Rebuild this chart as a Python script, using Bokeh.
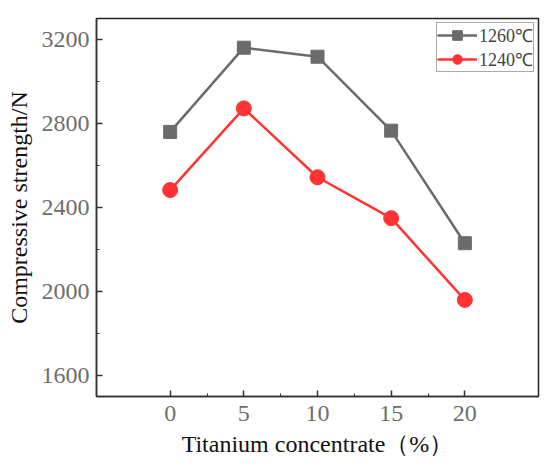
from bokeh.plotting import figure
from bokeh.models import FixedTicker, Range1d, Legend, LegendItem
from bokeh.embed import file_html
from bokeh.resources import INLINE

x = [0, 5, 10, 15, 20]
s1260 = [2760, 3161, 3118, 2766, 2230]
s1240 = [2483, 2872, 2544, 2349, 1960]
labels = ["1260\u2103", "1240\u2103"]
xticks = [0, 5, 10, 15, 20]
xminor = [2.5, 7.5, 12.5, 17.5]
yticks = [1600, 2000, 2400, 2800, 3200]
yminor = [1800, 2200, 2600, 3000]

FONT = "Times New Roman, Liberation Serif, serif"

p = figure(width=548, height=470, output_backend="svg", toolbar_location=None,
           x_range=Range1d(-5, 25), y_range=Range1d(1500, 3300),
           min_border_left=96, min_border_right=10, min_border_top=18, min_border_bottom=74)
p.grid.visible = False
p.outline_line_color = "#222222"
p.outline_line_width = 1.5
p.background_fill_color = "white"
p.border_fill_color = "white"

l1 = p.line(x, s1260, line_color="#6b6b6b", line_width=2.5)
m1 = p.scatter(x, s1260, marker="square", size=13, fill_color="#6b6b6b", line_color="#6b6b6b")
l2 = p.line(x, s1240, line_color="#ff3333", line_width=2.5)
m2 = p.scatter(x, s1240, marker="circle", size=15, fill_color="#ff3333", line_color="#ff3333")

for ax in (p.xaxis[0], p.yaxis[0]):
    ax.major_tick_in = 6
    ax.major_tick_out = 0
    ax.minor_tick_in = 3
    ax.minor_tick_out = 0
    ax.axis_line_color = "#333333"
    ax.axis_line_width = 1.5
    ax.major_tick_line_color = "#333333"
    ax.minor_tick_line_color = "#333333"
    ax.major_tick_line_width = 1.5
    ax.major_label_text_font = FONT
    ax.major_label_text_font_size = "24px"
    ax.major_label_text_color = "#6e6e6e"
    ax.axis_label_text_font = FONT
    ax.axis_label_text_font_size = "24px"
    ax.axis_label_text_font_style = "normal"
    ax.axis_label_text_color = "#111111"

p.xaxis.ticker = FixedTicker(ticks=xticks, minor_ticks=xminor)
p.yaxis.ticker = FixedTicker(ticks=yticks, minor_ticks=yminor)
p.xaxis.axis_label = "Titanium concentrate\uff08%\uff09"
p.yaxis.axis_label = "Compressive strength/N"
p.xaxis.major_label_standoff = 9
p.yaxis.major_label_standoff = 7
p.xaxis.axis_label_standoff = 7
p.yaxis.axis_label_standoff = 7

legend = Legend(items=[LegendItem(label=labels[0], renderers=[l1, m1]),
                       LegendItem(label=labels[1], renderers=[l2, m2])],
                location="top_right")
legend.label_text_font = FONT
legend.label_text_font_size = "18px"
legend.border_line_color = "#555555"
legend.border_line_width = 1
legend.glyph_width = 40
legend.glyph_height = 24
legend.label_height = 20
legend.spacing = 0
legend.padding = 0
legend.margin = 4
legend.label_standoff = 2
p.add_layout(legend)

open("out.html", "w").write(file_html(p, INLINE))
